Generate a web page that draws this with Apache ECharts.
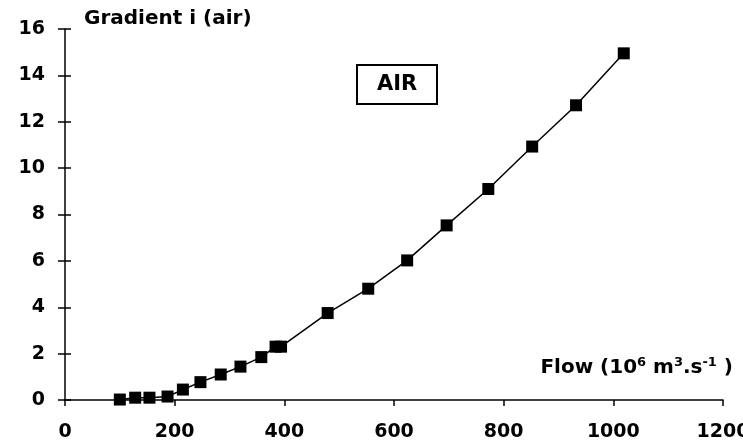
<!DOCTYPE html>
<html>
<head>
<meta charset="utf-8">
<script src="https://cdn.jsdelivr.net/npm/echarts@6/dist/echarts.min.js"></script>
<style>
  html, body { margin: 0; padding: 0; background: #fff; }
  #chart { width: 743px; height: 447px; }
</style>
</head>
<body>
<div id="chart"></div>
<script>
// Gradient vs flow for air: one black line with square markers, ticks crossing the axes.
const FLOW = [100, 128, 154, 187, 215, 247, 284, 320, 358, 384, 394, 479, 553, 624, 696, 772, 852, 932, 1019];
const GRADIENT = [0.02, 0.1, 0.1, 0.15, 0.45, 0.77, 1.1, 1.44, 1.85, 2.3, 2.3, 3.75, 4.8, 6.02, 7.53, 9.1, 10.93, 12.71, 14.95];
const X_RANGE = [0, 1200, 200];
const Y_RANGE = [0, 16, 2];

const FONT = "DejaVu Sans";
const INK = "#000";
const lineStyle = { color: INK, width: 1.5 };
const plain = (v) => String(v); // no thousands separator

const chart = echarts.init(document.getElementById("chart"));

const xBase = { type: "value", min: X_RANGE[0], max: X_RANGE[1], interval: X_RANGE[2], splitLine: { show: false } };
const yBase = { type: "value", min: Y_RANGE[0], max: Y_RANGE[1], interval: Y_RANGE[2], splitLine: { show: false } };

chart.setOption({
  animation: false,
  backgroundColor: "#fff",
  grid: { left: 65, right: 20, top: 29, bottom: 47, outerBoundsMode: "none", containLabel: false },
  title: {
    text: "AIR", left: 357, top: 65,
    borderColor: INK, borderWidth: 2, padding: [9, 20, 9, 20],
    textStyle: { fontFamily: FONT, fontWeight: "bold", fontSize: 21, color: INK },
  },
  xAxis: [
    {
      ...xBase,
      axisLine: { lineStyle },
      axisTick: { show: true, inside: false, length: 6, lineStyle },
      axisLabel: { margin: 23, formatter: plain, fontFamily: FONT, fontWeight: "bold", fontSize: 19, color: INK },
      name: "{t|Flow (10}{s|6}{t| m}{s|3}{t|.s}{s|-1}{t| )}",
      nameLocation: "end", nameGap: 10,
      nameTextStyle: {
        align: "right", verticalAlign: "bottom", padding: [0, 0, 20, 0],
        rich: {
          t: { fontFamily: FONT, fontWeight: "bold", fontSize: 20, color: INK, lineHeight: 24 },
          s: { fontFamily: FONT, fontWeight: "bold", fontSize: 13, color: INK, verticalAlign: "top", lineHeight: 13 },
        },
      },
    },
    { ...xBase, axisLine: { show: false }, axisTick: { show: true, inside: true, length: 6, lineStyle }, axisLabel: { show: false } },
  ],
  yAxis: [
    {
      ...yBase,
      axisLine: { show: true, lineStyle },
      axisTick: { show: true, inside: false, length: 7, lineStyle },
      axisLabel: { margin: 20, fontFamily: FONT, fontWeight: "bold", fontSize: 19, color: INK },
      name: "Gradient i (air)",
      nameLocation: "end", nameGap: 10,
      nameTextStyle: { align: "left", verticalAlign: "middle", padding: [0, 0, 0, 19], fontFamily: FONT, fontWeight: "bold", fontSize: 20, color: INK },
    },
    { ...yBase, position: "left", axisLine: { show: false }, axisTick: { show: true, inside: true, length: 6, lineStyle }, axisLabel: { show: false } },
  ],
  series: [{
    type: "line",
    data: FLOW.map((f, i) => [f, GRADIENT[i]]),
    symbol: "rect", symbolSize: 12, showAllSymbol: true,
    itemStyle: { color: INK },
    lineStyle,
  }],
});
</script>
</body>
</html>
